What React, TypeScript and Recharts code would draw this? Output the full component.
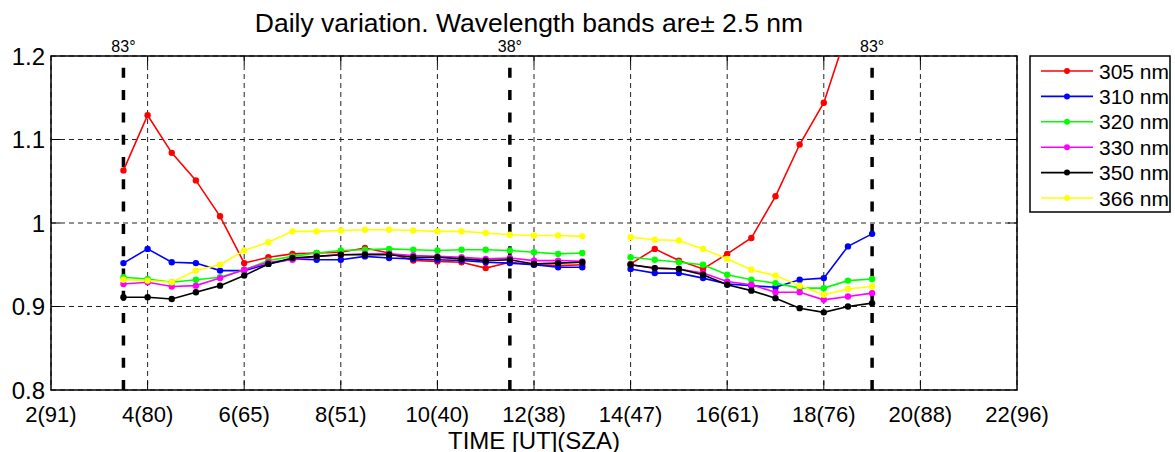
import React from 'react';
import {
  LineChart,
  Line,
  XAxis,
  YAxis,
  CartesianGrid,
  ReferenceLine,
  ReferenceArea,
} from 'recharts';

// Measurement times (UT hours) for the morning/midday and afternoon runs
const morningHours = [3.5, 4, 4.5, 5, 5.5, 6, 6.5, 7, 7.5, 8, 8.5, 9, 9.5, 10, 10.5, 11, 11.5, 12, 12.5, 13];
const gapHour = 13.5;
const afternoonHours = [14, 14.5, 15, 15.5, 16, 16.5, 17, 17.5, 18, 18.5, 19];

// Ratios per wavelength band
const r305Morning = [1.063, 1.129, 1.084, 1.051, 1.008, 0.952, 0.959, 0.963, 0.964, 0.965, 0.970, 0.964, 0.955, 0.954, 0.953, 0.946, 0.953, 0.950, 0.949, 0.950];
const r305Afternoon = [0.951, 0.969, 0.955, 0.945, 0.963, 0.982, 1.032, 1.094, 1.144, 1.232, 1.31];

const r310Morning = [0.952, 0.969, 0.953, 0.952, 0.943, 0.943, 0.951, 0.957, 0.956, 0.956, 0.960, 0.958, 0.957, 0.956, 0.955, 0.953, 0.952, 0.950, 0.947, 0.947];
const r310Afternoon = [0.945, 0.940, 0.940, 0.934, 0.927, 0.925, 0.923, 0.932, 0.934, 0.972, 0.987];

const r320Morning = [0.935, 0.933, 0.929, 0.932, 0.935, 0.944, 0.955, 0.960, 0.964, 0.967, 0.968, 0.969, 0.968, 0.967, 0.968, 0.968, 0.967, 0.965, 0.963, 0.964];
const r320Afternoon = [0.959, 0.956, 0.953, 0.950, 0.938, 0.932, 0.928, 0.922, 0.922, 0.931, 0.933];

const r330Morning = [0.927, 0.929, 0.924, 0.925, 0.934, 0.944, 0.953, 0.956, 0.960, 0.962, 0.963, 0.963, 0.961, 0.960, 0.959, 0.957, 0.958, 0.955, 0.955, 0.954];
const r330Afternoon = [0.950, 0.946, 0.945, 0.940, 0.930, 0.926, 0.917, 0.917, 0.908, 0.912, 0.916];

const r350Morning = [0.911, 0.911, 0.909, 0.917, 0.925, 0.937, 0.951, 0.958, 0.960, 0.962, 0.962, 0.962, 0.959, 0.959, 0.957, 0.955, 0.956, 0.951, 0.952, 0.953];
const r350Afternoon = [0.950, 0.946, 0.945, 0.938, 0.926, 0.919, 0.910, 0.898, 0.893, 0.900, 0.904];

const r366Morning = [0.932, 0.931, 0.929, 0.943, 0.950, 0.967, 0.977, 0.990, 0.990, 0.991, 0.992, 0.992, 0.991, 0.990, 0.990, 0.988, 0.986, 0.985, 0.985, 0.984];
const r366Afternoon = [0.983, 0.980, 0.979, 0.969, 0.957, 0.944, 0.937, 0.925, 0.914, 0.921, 0.924];

// Axis ticks
const hourTicks = [2, 4, 6, 8, 10, 12, 14, 16, 18, 20, 22];
const szaAtTicks = [91, 80, 65, 51, 40, 38, 47, 61, 76, 88, 96];
const ratioTicks = [0.8, 0.9, 1, 1.1, 1.2];

// Solar zenith angle markers
const szaMarkHours = [3.5, 11.5, 19];
const szaMarkLabels = ['83°', '38°', '83°'];

const series = [
  { key: 's305', name: '305 nm', color: '#ff0000', morning: r305Morning, afternoon: r305Afternoon },
  { key: 's310', name: '310 nm', color: '#0000ff', morning: r310Morning, afternoon: r310Afternoon },
  { key: 's320', name: '320 nm', color: '#00ff00', morning: r320Morning, afternoon: r320Afternoon },
  { key: 's330', name: '330 nm', color: '#ff00ff', morning: r330Morning, afternoon: r330Afternoon },
  { key: 's350', name: '350 nm', color: '#000000', morning: r350Morning, afternoon: r350Afternoon },
  { key: 's366', name: '366 nm', color: '#ffff00', morning: r366Morning, afternoon: r366Afternoon },
];

const buildRows = () => {
  const rows: Record<string, number | null>[] = [];
  morningHours.forEach((t, i) => {
    const row: Record<string, number | null> = { t };
    series.forEach((s) => (row[s.key] = s.morning[i]));
    rows.push(row);
  });
  const gap: Record<string, number | null> = { t: gapHour };
  series.forEach((s) => (gap[s.key] = null));
  rows.push(gap);
  afternoonHours.forEach((t, i) => {
    const row: Record<string, number | null> = { t };
    series.forEach((s) => (row[s.key] = s.afternoon[i]));
    rows.push(row);
  });
  return rows;
};

const data = buildRows();

const FONT = '"Liberation Sans", Arial, Helvetica, sans-serif';
const W = 1175;
const H = 452;
const PLOT_LEFT = 51;
const PLOT_RIGHT = 1017;
const PLOT_TOP = 56;
const PLOT_BOTTOM = 390;

// inward tick length in data units
const X_TICK_LEN = 0.011;
const Y_TICK_LEN = 0.19;

export default function App() {
  const innerX = hourTicks.slice(1, -1);
  const innerY = ratioTicks.slice(1, -1);
  return (
    <div style={{ position: 'absolute', left: 0, top: 0, width: W, height: H, background: '#fff', fontFamily: FONT }}>
      <LineChart
        width={W}
        height={H}
        data={data}
        margin={{ top: PLOT_TOP, right: W - PLOT_RIGHT, bottom: 0, left: 0 }}
      >
        <CartesianGrid stroke="#222" strokeWidth={1} strokeDasharray="5 4" />
        <XAxis
          dataKey="t"
          type="number"
          domain={[2, 22]}
          ticks={hourTicks}
          allowDataOverflow
          height={H - PLOT_BOTTOM}
          tickSize={0}
          tickMargin={16}
          axisLine={false}
          tickLine={false}
          tick={{ fill: '#000', fontSize: 22, fontFamily: FONT }}
          tickFormatter={(v: number) => `${v}(${szaAtTicks[hourTicks.indexOf(v)]})`}
        />
        <YAxis
          type="number"
          domain={[0.8, 1.2]}
          ticks={ratioTicks}
          allowDataOverflow
          width={PLOT_LEFT}
          tickSize={0}
          tickMargin={6}
          axisLine={false}
          tickLine={false}
          tick={{ fill: '#000', fontSize: 24, fontFamily: FONT }}
        />
        {innerX.map((x) => (
          <ReferenceLine key={`bt${x}`} segment={[{ x, y: 0.8 }, { x, y: 0.8 + X_TICK_LEN }]} stroke="#000" strokeWidth={1} />
        ))}
        {innerX.map((x) => (
          <ReferenceLine key={`tt${x}`} segment={[{ x, y: 1.2 }, { x, y: 1.2 - X_TICK_LEN }]} stroke="#000" strokeWidth={1} />
        ))}
        {innerY.map((y) => (
          <ReferenceLine key={`lt${y}`} segment={[{ x: 2, y }, { x: 2 + Y_TICK_LEN, y }]} stroke="#000" strokeWidth={1} />
        ))}
        {innerY.map((y) => (
          <ReferenceLine key={`rt${y}`} segment={[{ x: 22, y }, { x: 22 - Y_TICK_LEN, y }]} stroke="#000" strokeWidth={1} />
        ))}
        {szaMarkHours.map((x, i) => (
          <ReferenceLine
            key={`sza${i}`}
            x={x}
            stroke="#000"
            strokeWidth={3.5}
            strokeDasharray="10 12.3"
            label={{ value: szaMarkLabels[i], position: 'top', offset: 4, fill: '#000', fontSize: 16, fontFamily: FONT }}
          />
        ))}
        <ReferenceArea x1={2} x2={22} y1={0.8} y2={1.2} fill="none" fillOpacity={0} stroke="#000" strokeWidth={1.5} />
        {series.map((s) => (
          <Line
            key={s.key}
            dataKey={s.key}
            name={s.name}
            stroke={s.color}
            strokeWidth={1.6}
            dot={{ r: 3.2, fill: s.color, stroke: s.color, strokeWidth: 0 }}
            activeDot={false}
            connectNulls={false}
            isAnimationActive={false}
          />
        ))}
      </LineChart>
      <svg
        width={W}
        height={H}
        style={{ position: 'absolute', left: 0, top: 0, pointerEvents: 'none', overflow: 'visible' }}
      >
        <text x={529} y={31.5} textAnchor="middle" fontSize={26.5} fontFamily={FONT} fill="#000">
          Daily variation. Wavelength bands are± 2.5 nm
        </text>
        <text x={(PLOT_LEFT + PLOT_RIGHT) / 2} y={449} textAnchor="middle" fontSize={24} fontFamily={FONT} fill="#000">
          TIME [UT](SZA)
        </text>
        <rect x={1030} y={56} width={140} height={156} fill="#fff" stroke="#000" strokeWidth={1.5} />
        {series.map((s, i) => {
          const cy = 71 + i * 25.4;
          return (
            <g key={s.key}>
              <line x1={1041} x2={1093} y1={cy} y2={cy} stroke={s.color} strokeWidth={1.6} />
              <circle cx={1067} cy={cy} r={3} fill={s.color} />
              <text x={1099} y={cy} dominantBaseline="central" fontSize={21} fontFamily={FONT} fill="#000">
                {s.name}
              </text>
            </g>
          );
        })}
      </svg>
    </div>
  );
}
